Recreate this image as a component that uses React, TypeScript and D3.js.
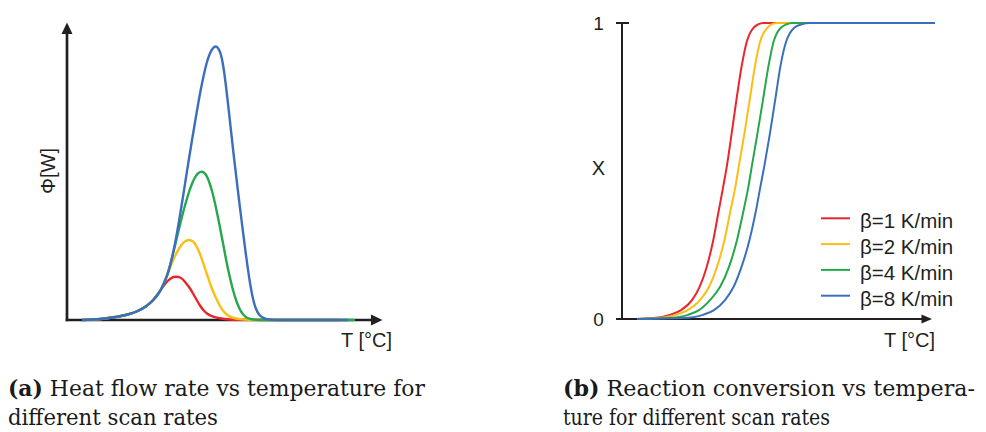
import React from 'react';
import * as d3 from 'd3';

// ---------- shared ----------
const SERIES = ['β=1 K/min', 'β=2 K/min', 'β=4 K/min', 'β=8 K/min'];
const COLORS = ['#e8262b', '#fdbd17', '#25a84b', '#3b6fbd'];
const AXIS_COLOR = '#231f20';

// ---------- panel (a): heat flow [T (°C), Φ] ----------
const heatRed: [number, number][] = [
  [40, 0], [58.7, 1], [73.7, 3], [85.7, 5.5], [95.7, 9], [103.7, 13.5], [110.7, 19.5], [115.7, 25.5],
  [119.7, 31.5], [122.7, 35.5], [125.7, 39], [128.7, 41.5], [131.7, 43], [134.7, 43.3], [138, 42.5],
  [141.3, 40], [144.7, 36], [148, 31.5], [151.3, 26], [154.7, 20], [158, 14.5], [161.3, 10],
  [165, 6.5], [171.3, 3.3], [178, 1.7], [184.7, 0.8], [198, 0.2], [298, 0],
];
const heatYellow: [number, number][] = [
  [40, 0], [58.7, 1], [73.7, 3], [85.7, 5.5], [95.7, 9], [103.7, 13.5], [110.7, 19.5], [115.7, 25.5],
  [119.7, 32], [122.7, 38.5], [125.7, 46], [128.7, 54], [131.7, 61], [134.7, 67.3], [137.7, 72.5],
  [140.7, 76.5], [143.7, 79], [147, 80], [151, 78.5], [154.7, 73.3], [158, 66], [161.3, 56.7],
  [164.7, 46.5], [168, 36.7], [171.3, 28], [174.7, 20.5], [178, 14], [181.3, 9], [185, 5.3],
  [190, 2.6], [198, 0.9], [208, 0.2], [220, 0], [303, 0],
];
const heatGreen: [number, number][] = [
  [40, 0], [58.7, 1], [73.7, 3], [85.7, 5.5], [95.7, 9], [103.7, 13.5], [110.7, 19.5], [115.7, 25.5],
  [119.7, 32], [122.7, 38.5], [125.7, 46.5], [128.7, 57], [131.7, 69], [134.7, 81.5], [137.7, 94],
  [140.7, 106], [143.7, 117], [146.7, 127], [149.7, 135.5], [152.7, 142], [155.7, 146.3],
  [157.7, 147.8], [159.7, 148.3], [161.7, 147.6], [163.7, 145.5], [165.7, 141.8], [167.7, 136.5],
  [169.7, 130], [171.7, 122.3], [173.7, 113.5], [175.7, 104], [177.7, 94], [179.7, 83.5],
  [181.7, 73], [183.7, 62.5], [185.7, 52.5], [187.7, 43.5], [189.7, 35], [191.7, 27.5], [193.7, 21],
  [195.7, 15.5], [197.7, 11], [199.7, 7.5], [201.7, 5], [204.7, 2.5], [208.7, 1], [214.7, 0.2],
  [222.7, 0], [313, 0],
];
const heatBlue: [number, number][] = [
  [40, 0], [58.7, 1], [73.7, 3], [85.7, 5.5], [95.7, 9], [103.7, 13.5], [110.7, 19.5], [115.7, 25.5],
  [119.7, 32], [122.7, 38.5], [125.7, 46.5], [128.7, 57], [131.7, 70], [134.7, 85.5], [137.7, 103],
  [140.7, 121.5], [143.7, 140.5], [146.7, 159.5], [149.7, 178], [152.7, 196], [155.7, 213.5],
  [158.7, 230], [161.7, 244.5], [164.7, 257], [167.7, 266], [170.7, 271.5], [173.7, 273.5],
  [175.7, 272.3], [177.7, 268.7], [179.7, 262], [181.7, 251], [183.7, 236], [185.7, 219],
  [187.7, 201], [189.7, 183], [191.7, 165], [193.7, 148], [195.7, 131], [197.7, 114.5],
  [199.7, 98.5], [201.7, 82.5], [203.7, 67], [205.7, 52.5], [207.7, 39], [209.7, 27.5],
  [211.7, 18.5], [213.7, 12], [216.7, 6], [219.7, 3], [223.7, 1.2], [229.7, 0.3], [237.7, 0], [306, 0],
];
const HEAT = [heatRed, heatYellow, heatGreen, heatBlue];

// ---------- panel (b): conversion X vs T (°C) ----------
const X_LEVELS = [0, 0.003, 0.014, 0.03, 0.064, 0.108, 0.176, 0.267, 0.358, 0.449, 0.52, 0.628,
  0.747, 0.855, 0.936, 0.966, 0.983, 0.995, 1, 1];
const convRedT = [40, 55, 73, 84, 95, 102.5, 109.7, 116.3, 121.3, 126.3, 130, 134.7, 139.7, 144.7,
  149.7, 153, 156.3, 161, 166.3, 338];
const convYellowT = [40, 59, 79, 90.5, 103, 112, 120, 127.5, 133, 138.5, 142, 147.5, 153, 158, 163,
  166.5, 170, 174.5, 180, 338];
const convGreenT = [40, 71, 91, 102, 113, 123, 132, 140, 146, 151.5, 155, 160.5, 166.3, 171.5,
  176.5, 180, 183.5, 189, 196, 338];
const convBlueT = [40, 86, 106, 117, 128, 136.5, 144.5, 152.5, 158.5, 163.5, 167.5, 173, 178.5,
  183.5, 189, 193, 197, 204, 213, 338];
const CONV = [convRedT, convYellowT, convGreenT, convBlueT];

const Y_TICKS_B = [0, 1];
const CAPTION_A = ['Heat flow rate vs temperature for', 'different scan rates'];
const CAPTION_B = ['Reaction conversion vs tempera-', 'ture for different scan rates'];

const SANS = "'Liberation Sans', Arial, Helvetica, sans-serif";
const SERIF = "'DejaVu Serif', 'Liberation Serif', serif";

export default function App() {
  const xA = d3.scaleLinear().domain([25, 340]).range([67, 382]);
  const yA = d3.scaleLinear().domain([0, 297]).range([320, 23]);
  const xB = d3.scaleLinear().domain([25, 335]).range([622, 932]);
  const yB = d3.scaleLinear().domain([0, 1]).range([319, 23]);

  const lineA = d3.line<[number, number]>()
    .x((d) => xA(d[0]))
    .y((d) => yA(d[1]))
    .curve(d3.curveMonotoneX);
  const lineB = d3.line<[number, number]>()
    .x((d) => xB(d[0]))
    .y((d) => yB(d[1]))
    .curve(d3.curveMonotoneX);

  const axA = xA.range()[0];
  const ayA = yA(0);
  const axB = xB.range()[0];
  const ayB = yB(0);

  return (
    <svg
      width={986}
      height={432}
      style={{ position: 'absolute', left: 0, top: 0, background: '#fff' }}
    >
      <rect x={0} y={0} width={986} height={432} fill="#fff" />

      {/* ---------- panel (a) ---------- */}
      <g>
        <line x1={axA} y1={ayA + 1.3} x2={axA} y2={32} stroke={AXIS_COLOR} strokeWidth={2.7} />
        <path d={`M${axA},${22.5} L${axA - 5.5},${34} L${axA + 5.5},${34} Z`} fill={AXIS_COLOR} />
        <line x1={axA - 1.3} y1={ayA} x2={372} y2={ayA} stroke={AXIS_COLOR} strokeWidth={2.7} />
        <path d={`M${382.5},${ayA} L${371},${ayA - 5.5} L${371},${ayA + 5.5} Z`} fill={AXIS_COLOR} />

        {HEAT.map((s, i) => (
          <path key={i} d={lineA(s) || ''} fill="none" stroke={COLORS[i]} strokeWidth={2.4} />
        ))}

        <text
          transform={`translate(55,171) rotate(-90)`}
          textAnchor="middle"
          fontFamily={SANS}
          fontSize={20}
          fill="#231f20"
        >
          Φ[W]
        </text>
        <text x={392} y={347} textAnchor="end" fontFamily={SANS} fontSize={20} fill="#231f20">
          T [°C]
        </text>
      </g>

      {/* ---------- panel (b) ---------- */}
      <g>
        <line x1={axB} y1={ayB + 1} x2={axB} y2={yB(1)} stroke={AXIS_COLOR} strokeWidth={2} />
        {Y_TICKS_B.map((t) => (
          <g key={t}>
            <line x1={axB - 6} y1={yB(t)} x2={t === 1 ? axB + 7 : axB} y2={yB(t)} stroke={AXIS_COLOR} strokeWidth={2} />
            <text x={598.5} y={yB(t) + 6.5} textAnchor="middle" fontFamily={SANS} fontSize={19} fill="#231f20">
              {t}
            </text>
          </g>
        ))}
        <line x1={axB - 6} y1={ayB} x2={923} y2={ayB} stroke={AXIS_COLOR} strokeWidth={2} />
        <path d={`M${932},${ayB} L${921.5},${ayB - 4.5} L${921.5},${ayB + 4.5} Z`} fill={AXIS_COLOR} />

        {CONV.map((ts, i) => (
          <path
            key={i}
            d={lineB(ts.map((t, k) => [t, X_LEVELS[k]] as [number, number])) || ''}
            fill="none"
            stroke={COLORS[i]}
            strokeWidth={2}
          />
        ))}

        <text x={598.5} y={175} textAnchor="middle" fontFamily={SANS} fontSize={20} fill="#231f20">
          X
        </text>
        <text x={935} y={347} textAnchor="end" fontFamily={SANS} fontSize={20} fill="#231f20">
          T [°C]
        </text>

        {SERIES.map((name, i) => {
          const ly = 218.3 + i * 25.8;
          return (
            <g key={name}>
              <line x1={821} y1={ly} x2={850} y2={ly} stroke={COLORS[i]} strokeWidth={2} />
              <text x={860} y={ly + 10} fontFamily={SANS} fontSize={20.5} fill="#231f20">
                {name}
              </text>
            </g>
          );
        })}
      </g>

      {/* ---------- captions ---------- */}
      <g fontFamily={SERIF} fontSize={22} fill="#1a1a1a">
        <text x={8} y={396} textLength={417} lengthAdjust="spacingAndGlyphs">
          <tspan fontWeight="bold">(a)</tspan> {CAPTION_A[0]}
        </text>
        <text x={8} y={425} textLength={210} lengthAdjust="spacingAndGlyphs">
          {CAPTION_A[1]}
        </text>
        <text x={563} y={396} textLength={412} lengthAdjust="spacingAndGlyphs">
          <tspan fontWeight="bold">(b)</tspan> {CAPTION_B[0]}
        </text>
        <text x={563} y={425} textLength={267} lengthAdjust="spacingAndGlyphs">
          {CAPTION_B[1]}
        </text>
      </g>
    </svg>
  );
}
